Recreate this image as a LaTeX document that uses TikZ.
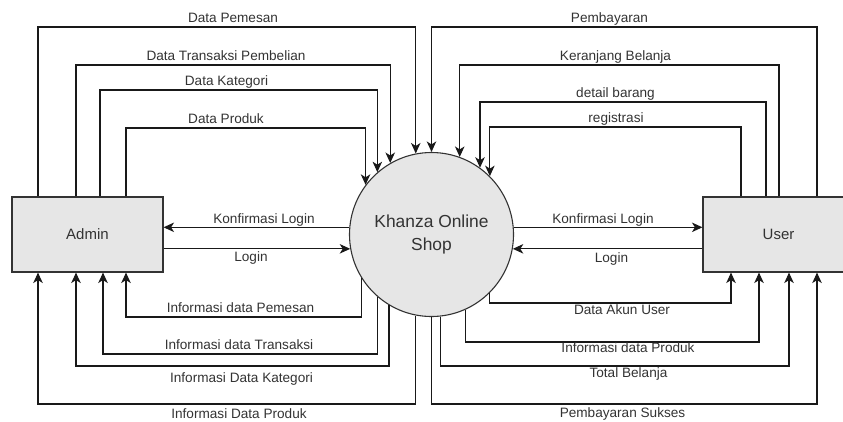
\documentclass[tikz,border=0pt]{standalone}
\usepackage{fontspec}
\setmainfont{Liberation Sans}
\usetikzlibrary{arrows.meta}
\definecolor{boxfill}{HTML}{E6E6E6}
\definecolor{inkgray}{HTML}{333333}

\begin{document}
\begin{tikzpicture}[x = 1pt, y = -1pt,
        flow/.style = {draw = black!90, line width = 1.1pt, -{Stealth[length = 10.5pt, width = 9.5pt, inset = 3pt]}},
        entity/.style = {draw = inkgray, fill = boxfill, line width = 1.1pt, minimum width = 151pt, minimum height = 75pt, font = \fontsize{15}{18}\selectfont, text = inkgray},
        process/.style = {circle, draw = inkgray, fill = boxfill, line width = 1.1pt, minimum size = 164pt, inner sep = 0pt, align = center, font = \fontsize{17.4}{23}\selectfont, text = inkgray},
        lbl/.style = {inner sep = 0pt, text height = 9.8pt, text depth = 0pt, font = \fontsize{13.6}{16}\selectfont, text = inkgray}]
    \clip (0, 0) rectangle (843, 421);
    \node[entity] (admin) at (87.5, 234.5) {Admin};
    \node[entity] (user) at (778.5, 234.5) {User};
    \node[process] (shop) at (431.5, 234.5) {Khanza Online\\Shop};

    \foreach \x/\y/\a/\lx/\ly/\t in {38/27/101.6/233/18/Data Pemesan,
            76/65/120.4/226/56/Data Transaksi Pembelian,
            100/90/131.7/226.5/81/Data Kategori,
            126/128/143.0/226/119/Data Produk}{
        \draw[flow] (admin.north -| \x, 0) -- (\x, \y) -| (shop.\a);
        \node[lbl] (ta-\x) at (\lx, \ly) {\t};
    }
    \foreach \x/\y/\a/\lx/\ly/\t in {817/27/90.3/609.5/18/Pembayaran,
            779/65/70.4/615.5/56/Keranjang Belanja,
            766/102/54.6/615.5/93/detail barang,
            741/127/45.5/616/118/registrasi}{
        \draw[flow] (user.north -| \x, 0) -- (\x, \y) -| (shop.\a);
        \node[lbl] (tu-\x) at (\lx, \ly) {\t};
    }

    \draw[flow] (shop.175.5) -- (shop.175.5 -| admin.east);
    \node[lbl] (konf-a) at (264, 219) {Konfirmasi Login};
    \draw[flow] (admin.east |- shop.-170.5) -- (shop.-170.5);
    \node[lbl] (login-a) at (251, 257) {Login};
    \draw[flow] (shop.5.2) -- (shop.5.2 -| user.west);
    \node[lbl] (konf-u) at (603, 219) {Konfirmasi Login};
    \draw[flow] (user.west |- shop.-10.9) -- (shop.-10.9);
    \node[lbl] (login-u) at (611.5, 258) {Login};

    \foreach \x/\y/\a/\lx/\ly/\t in {126/317/-148/240.5/308/Informasi data Pemesan,
            103/354/-131.7/239/345/Informasi data Transaksi,
            76/366/-121.2/241.5/378/Informasi Data Kategori,
            38/404/-101.6/239/414/Informasi Data Produk}{
        \draw[flow] (shop.\a) |- (\x, \y) -- (admin.south -| \x, 0);
        \node[lbl] (ba-\x) at (\lx, \ly) {\t};
    }
    \foreach \x/\y/\a/\lx/\ly/\t in {731/303/-45.5/622/310/Data Akun User,
            759/342/-66.6/628/348/Informasi data Produk,
            789/366/-84.0/628.5/372.5/Total Belanja,
            817/404/-90.3/622.5/413/Pembayaran Sukses}{
        \draw[flow] (shop.\a) |- (\x, \y) -- (user.south -| \x, 0);
        \node[lbl] (bu-\x) at (\lx, \ly) {\t};
    }
\end{tikzpicture}
\end{document}
